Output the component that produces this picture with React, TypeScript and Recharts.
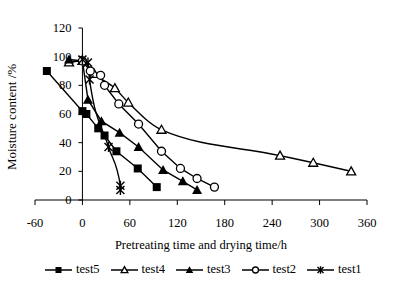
import React from "react";
import { LineChart, Line, XAxis, YAxis, ReferenceLine, Legend } from "recharts";

type Pt = { x: number; y: number };

// series values: [time h, moisture %]
const test5: Pt[] = [[-45, 90], [0, 62], [5, 60], [20, 50], [28, 45], [43, 34], [70, 22], [94, 9]].map(([x, y]) => ({ x, y }));
const test4: Pt[] = [[-17, 96], [0, 97], [15, 88], [41, 78], [58, 68], [100, 49], [250, 31], [292, 26], [340, 20]].map(([x, y]) => ({ x, y }));
const test3: Pt[] = [[-17, 98], [0, 97], [7, 70], [24, 55], [47, 47], [71, 37], [102, 21], [127, 13], [145, 7]].map(([x, y]) => ({ x, y }));
const test2: Pt[] = [[0, 97], [10, 90], [23, 87], [28, 80], [46, 67], [71, 53], [100, 34], [124, 22], [145, 15], [167, 9]].map(([x, y]) => ({ x, y }));
const test1: Pt[] = [[0, 98], [7, 96], [9, 84], [33, 37], [48, 10], [48, 7]].map(([x, y]) => ({ x, y }));

const xTicks = [-60, 0, 60, 120, 180, 240, 300, 360];
const yTicks = [0, 20, 40, 60, 80, 100, 120];

const W = 393;
const H = 287;
const LEFT = 35;
const RIGHT = 26;
const X_MIN = -60;
const X_MAX = 360;
// pixel column of x = 0 where the y axis is drawn
const X0 = LEFT + ((0 - X_MIN) / (X_MAX - X_MIN)) * (W - LEFT - RIGHT);
const FONT = "Times New Roman, Liberation Serif, DejaVu Serif, serif";

const Square = ({ cx, cy, s = 1 }: any) => <rect x={cx - 4 * s} y={cy - 4 * s} width={8 * s} height={8 * s} fill="#000" />;
const OpenTri = ({ cx, cy, s = 1 }: any) => (
  <polygon
    points={`${cx},${cy - 4.5 * s} ${cx - 4.5 * s},${cy + 3.5 * s} ${cx + 4.5 * s},${cy + 3.5 * s}`}
    fill="#fff"
    stroke="#000"
    strokeWidth={1.3}
  />
);
const FillTri = ({ cx, cy, s = 1 }: any) => (
  <polygon points={`${cx},${cy - 5 * s} ${cx - 5 * s},${cy + 4 * s} ${cx + 5 * s},${cy + 4 * s}`} fill="#000" />
);
const Circle = ({ cx, cy, s = 1 }: any) => <circle cx={cx} cy={cy} r={4 * s} fill="#fff" stroke="#000" strokeWidth={1.3} />;
const Star = ({ cx, cy, s = 1 }: any) => (
  <g stroke="#000" strokeWidth={1.4}>
    <line x1={cx} y1={cy - 5 * s} x2={cx} y2={cy + 5 * s} />
    <line x1={cx - 4 * s} y1={cy - 4 * s} x2={cx + 4 * s} y2={cy + 4 * s} />
    <line x1={cx - 4 * s} y1={cy + 4 * s} x2={cx + 4 * s} y2={cy - 4 * s} />
  </g>
);

const series = [
  { name: "test5", data: test5, Mark: Square, curve: "linear" },
  { name: "test4", data: test4, Mark: OpenTri, curve: "monotone" },
  { name: "test3", data: test3, Mark: FillTri, curve: "linear" },
  { name: "test2", data: test2, Mark: Circle, curve: "linear" },
  { name: "test1", data: test1, Mark: Star, curve: "monotone" },
];

const YTick = ({ y, payload }: any) => (
  <g>
    <line x1={X0 - 4} x2={X0} y1={y} y2={y} stroke="#000" />
    <text x={X0 - 11} y={y} dy={4} textAnchor="end" fontSize={12.5} style={{ fontFamily: FONT }} fill="#000">
      {payload.value}
    </text>
  </g>
);

const LegendBox = () => (
  <div style={{ display: "flex", fontFamily: FONT, fontSize: 12.5, color: "#000", paddingLeft: 45 }}>
    {series.map(({ name, Mark }) => (
      <div key={name} style={{ display: "flex", alignItems: "center", width: 65.5 }}>
        <svg width={27} height={12}>
          <line x1={0} x2={27} y1={6} y2={6} stroke="#000" strokeWidth={1.5} />
          <Mark cx={13.5} cy={6} s={0.75} />
        </svg>
        <span style={{ marginLeft: 4 }}>{name}</span>
      </div>
    ))}
  </div>
);

export default function App() {
  return (
    <div style={{ position: "absolute", left: 0, top: 0, width: W, height: H, background: "#fff", fontFamily: FONT }}>
      <LineChart width={W} height={H} margin={{ top: 28, right: RIGHT, left: 0, bottom: 57 }} style={{ fontFamily: FONT }}>
        <XAxis
          type="number"
          dataKey="x"
          domain={[X_MIN, X_MAX]}
          ticks={xTicks}
          allowDataOverflow
          height={30}
          tickSize={5}
          tickMargin={13}
          stroke="#000"
          tick={{ fill: "#000", fontSize: 12.5, style: { fontFamily: FONT } }}
          label={() => (
            <text x={201} y={249} textAnchor="middle" fontSize={12.5} style={{ fontFamily: FONT }} fill="#000">
              Pretreating time and drying time/h
            </text>
          )}
        />
        <YAxis
          type="number"
          dataKey="y"
          domain={[0, 120]}
          ticks={yTicks}
          width={LEFT}
          axisLine={false}
          tickLine={false}
          tick={<YTick />}
          label={() => (
            <text
              x={16}
              y={117}
              transform="rotate(-90 16 117)"
              textAnchor="middle"
              fontSize={13}
              style={{ fontFamily: FONT }}
              fill="#000"
            >
              Moisture content /%
            </text>
          )}
        />
        <ReferenceLine x={0} stroke="#000" />
        <Legend
          verticalAlign="middle"
          layout="horizontal"
          content={<LegendBox />}
          wrapperStyle={{ position: "absolute", top: 262, left: 0, width: W }}
        />
        {series.map(({ name, data, Mark, curve }) => (
          <Line
            key={name}
            name={name}
            data={data}
            dataKey="y"
            type={curve as any}
            stroke="#000"
            strokeWidth={1.4}
            dot={(p: any) => <Mark key={`${name}-${p.index}`} cx={p.cx} cy={p.cy} />}
            activeDot={false}
            isAnimationActive={false}
          />
        ))}
      </LineChart>
    </div>
  );
}
